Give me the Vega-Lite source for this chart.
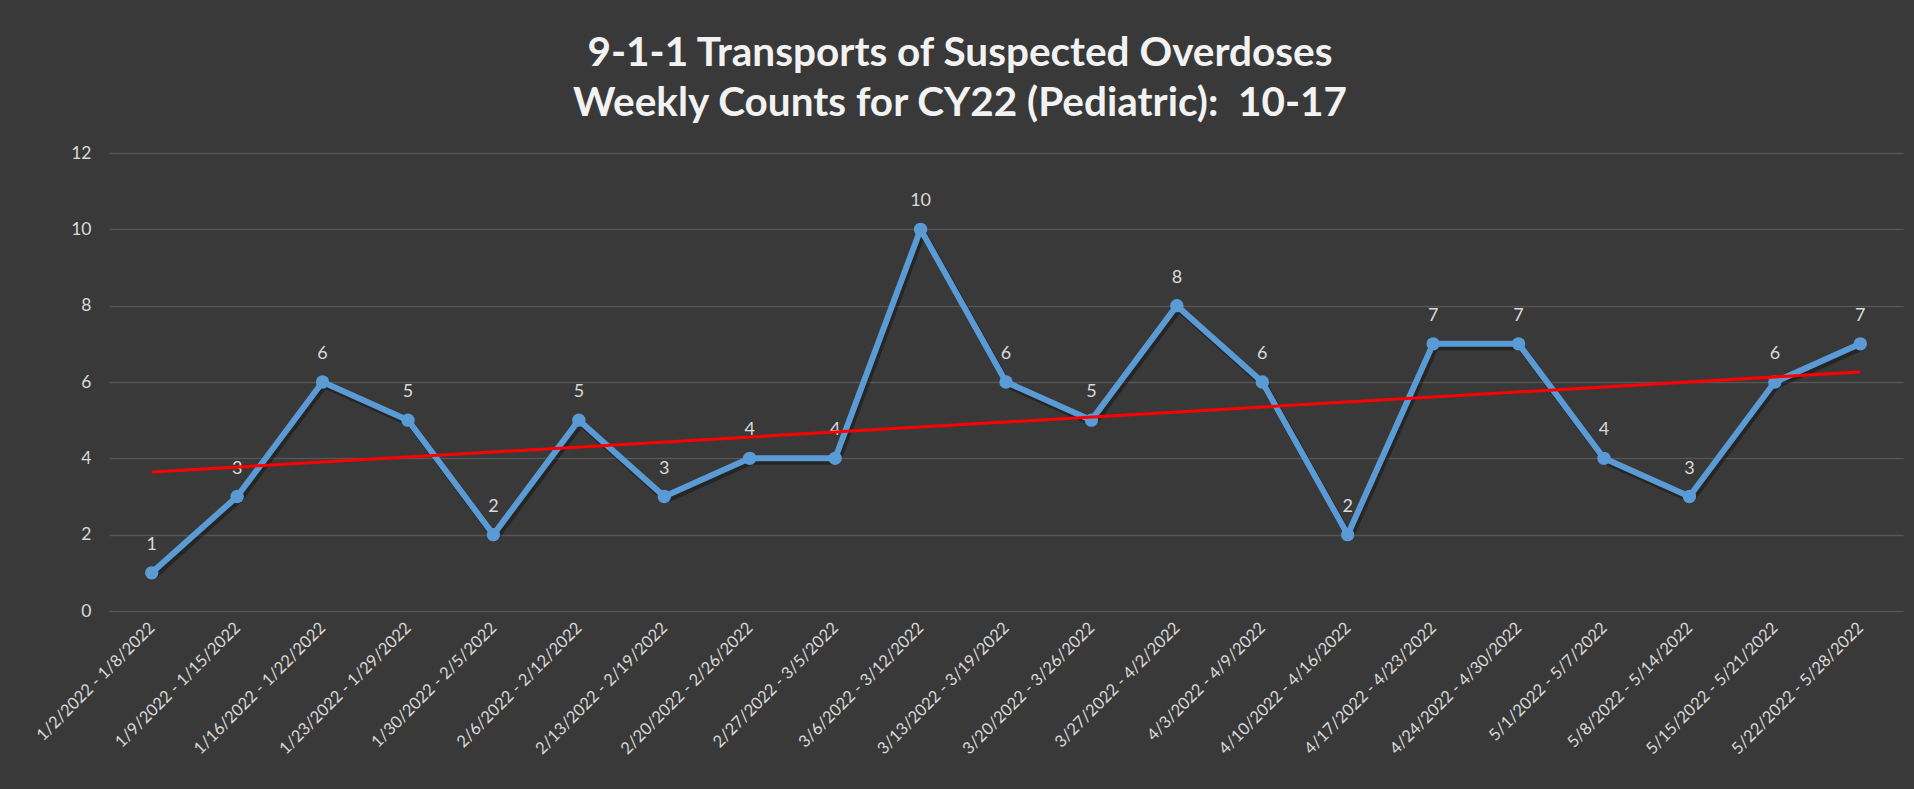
{
  "$schema": "https://vega.github.io/schema/vega-lite/v6.json",
  "width": 1794,
  "height": 458,
  "autosize": "none",
  "padding": {"left": 109, "top": 153, "right": 11, "bottom": 178},
  "background": "#393939",
  "config": {"view": {"stroke": null}},
  "title": {
    "text": ["9-1-1 Transports of Suspected Overdoses", "Weekly Counts for CY22 (Pediatric):\u00a0 10-17"],
    "font": "Lato",
    "fontSize": 40.5,
    "fontWeight": "bold",
    "color": "#f2f2f2",
    "lineHeight": 50,
    "anchor": "middle",
    "dx": -46,
    "offset": 20
  },
  "data": {
    "values": [
      {"week": "1/2/2022 - 1/8/2022", "count": 1},
      {"week": "1/9/2022 - 1/15/2022", "count": 3},
      {"week": "1/16/2022 - 1/22/2022", "count": 6},
      {"week": "1/23/2022 - 1/29/2022", "count": 5},
      {"week": "1/30/2022 - 2/5/2022", "count": 2},
      {"week": "2/6/2022 - 2/12/2022", "count": 5},
      {"week": "2/13/2022 - 2/19/2022", "count": 3},
      {"week": "2/20/2022 - 2/26/2022", "count": 4},
      {"week": "2/27/2022 - 3/5/2022", "count": 4},
      {"week": "3/6/2022 - 3/12/2022", "count": 10},
      {"week": "3/13/2022 - 3/19/2022", "count": 6},
      {"week": "3/20/2022 - 3/26/2022", "count": 5},
      {"week": "3/27/2022 - 4/2/2022", "count": 8},
      {"week": "4/3/2022 - 4/9/2022", "count": 6},
      {"week": "4/10/2022 - 4/16/2022", "count": 2},
      {"week": "4/17/2022 - 4/23/2022", "count": 7},
      {"week": "4/24/2022 - 4/30/2022", "count": 7},
      {"week": "5/1/2022 - 5/7/2022", "count": 4},
      {"week": "5/8/2022 - 5/14/2022", "count": 3},
      {"week": "5/15/2022 - 5/21/2022", "count": 6},
      {"week": "5/22/2022 - 5/28/2022", "count": 7}
    ]
  },
  "layer": [
    {
      "encoding": {
        "x": {
          "field": "week", "type": "nominal", "sort": null,
          "scale": {"type": "point", "padding": 0.5},
          "axis": {
            "title": null, "labelAngle": -45, "labelAlign": "right", "labelBaseline": "middle",
            "labelFont": "Lato", "labelFontSize": 16.5, "labelColor": "#d9d9d9",
            "labelPadding": 14, "ticks": false, "domain": false, "grid": false, "labelOverlap": false
          }
        },
        "y": {
          "field": "count", "type": "quantitative",
          "scale": {"domain": [0, 12]},
          "axis": {
            "title": null, "values": [0, 2, 4, 6, 8, 10, 12],
            "labelFont": "Lato", "labelFontSize": 17.5, "labelColor": "#d9d9d9",
            "labelPadding": 18, "ticks": false, "domain": false,
            "gridColor": "#ffffff", "gridOpacity": 0.15, "gridWidth": 1.3
          }
        }
      },
      "layer": [
        {"mark": {"type": "line", "color": "#000000", "opacity": 0.35, "strokeWidth": 7, "strokeJoin": "round", "xOffset": 2, "yOffset": 3}},
        {"mark": {"type": "line", "color": "#5b9bd5", "strokeWidth": 6, "strokeJoin": "round"}},
        {"mark": {"type": "point", "filled": true, "opacity": 1, "color": "#5b9bd5", "size": 180}},
        {
          "mark": {"type": "text", "color": "#d9d9d9", "font": "Lato", "fontSize": 18, "baseline": "alphabetic", "dy": -23},
          "encoding": {"text": {"field": "count", "type": "quantitative"}}
        }
      ]
    },
    {
      "transform": [
        {"window": [{"op": "row_number", "as": "idx"}]},
        {"regression": "count", "on": "idx", "extent": [1, 21]}
      ],
      "mark": {"type": "line", "color": "#ff0000", "strokeWidth": 3},
      "encoding": {
        "x": {"field": "idx", "type": "quantitative", "scale": {"domain": [0.5, 21.5]}, "axis": null},
        "y": {"field": "count", "type": "quantitative", "scale": {"domain": [0, 12]}}
      }
    }
  ],
  "resolve": {"scale": {"x": "independent"}}
}
